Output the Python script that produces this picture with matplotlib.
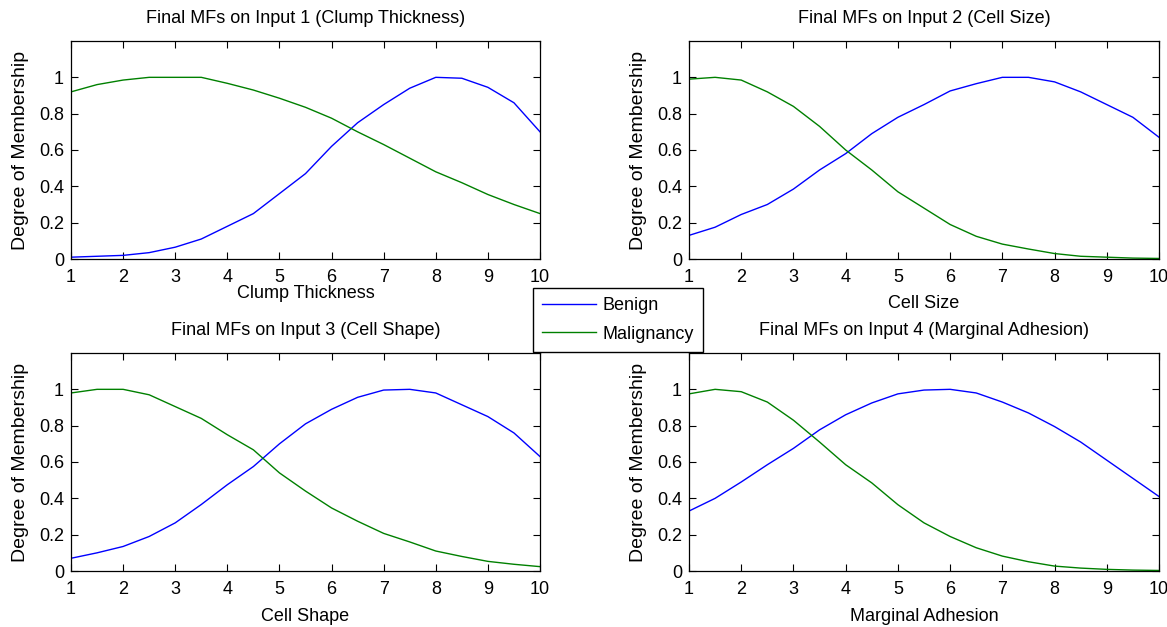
import matplotlib
matplotlib.use("Agg")
import matplotlib.pyplot as plt

# membership values sampled every 0.5 on the input range 1..10
x = [1, 1.5, 2, 2.5, 3, 3.5, 4, 4.5, 5, 5.5, 6, 6.5, 7, 7.5, 8, 8.5, 9, 9.5, 10]

benign_1 = [0.01, 0.015, 0.02, 0.035, 0.065, 0.11, 0.18, 0.25, 0.36, 0.47, 0.62,
            0.75, 0.85, 0.94, 1.0, 0.995, 0.945, 0.86, 0.70]
malig_1 = [0.92, 0.96, 0.985, 1.0, 1.0, 1.0, 0.967, 0.93, 0.885, 0.835, 0.775,
           0.70, 0.63, 0.555, 0.48, 0.42, 0.355, 0.30, 0.25]

benign_2 = [0.13, 0.175, 0.245, 0.30, 0.385, 0.49, 0.58, 0.69, 0.78, 0.85, 0.925,
            0.965, 1.0, 1.0, 0.975, 0.92, 0.85, 0.78, 0.67]
malig_2 = [0.99, 1.0, 0.985, 0.92, 0.84, 0.73, 0.60, 0.49, 0.37, 0.28, 0.19,
           0.125, 0.082, 0.055, 0.03, 0.015, 0.01, 0.005, 0.003]

benign_3 = [0.07, 0.10, 0.135, 0.19, 0.265, 0.366, 0.475, 0.575, 0.70, 0.81, 0.89,
            0.956, 0.996, 1.0, 0.98, 0.915, 0.85, 0.76, 0.63]
malig_3 = [0.98, 1.0, 1.0, 0.97, 0.905, 0.84, 0.75, 0.667, 0.54, 0.44, 0.347,
           0.274, 0.207, 0.16, 0.11, 0.08, 0.053, 0.037, 0.024]

benign_4 = [0.33, 0.40, 0.49, 0.585, 0.675, 0.777, 0.86, 0.925, 0.975, 0.996, 1.0,
            0.98, 0.93, 0.87, 0.795, 0.71, 0.61, 0.51, 0.41]
malig_4 = [0.975, 1.0, 0.987, 0.93, 0.83, 0.71, 0.585, 0.485, 0.365, 0.265, 0.19,
           0.128, 0.082, 0.051, 0.027, 0.016, 0.009, 0.005, 0.003]

inputs = ["Clump Thickness", "Cell Size", "Cell Shape", "Marginal Adhesion"]
benign = [benign_1, benign_2, benign_3, benign_4]
malig = [malig_1, malig_2, malig_3, malig_4]

plt.rcParams['font.family'] = ['Liberation Sans', 'DejaVu Sans']
fs = 13

W, H = 1167, 627
fig = plt.figure(figsize=(W / 100, H / 100), dpi=100)

# axes boxes in pixels: left, top, right, bottom
boxes = [(71, 41, 540, 259), (689, 41, 1159, 259),
         (71, 353, 540, 571), (689, 353, 1159, 571)]
xlabel_y = [-0.12, -0.163, -0.17, -0.17]

for i, (l, t, r, b) in enumerate(boxes):
    ax = fig.add_axes([l / W, 1 - b / H, (r - l) / W, (b - t) / H])
    lb, = ax.plot(x, benign[i], color=(0, 0, 1), lw=1.0, label="Benign")
    lm, = ax.plot(x, malig[i], color=(0, 0.5, 0), lw=1.0, label="Malignancy")
    ax.set_xlim(1, 10)
    ax.set_ylim(0, 1.2)
    ax.set_xticks(range(1, 11))
    ax.set_yticks([0, 0.2, 0.4, 0.6, 0.8, 1.0])
    ax.set_yticklabels(["0", "0.2", "0.4", "0.6", "0.8", "1"])
    ax.tick_params(direction='in', top=True, right=True, length=5, width=0.8,
                   labelsize=fs)
    ax.tick_params(axis='x', pad=7)
    ax.tick_params(axis='y', pad=5)
    for s in ax.spines.values():
        s.set_linewidth(0.9)
    ax.set_title("Final MFs on Input %d (%s)" % (i + 1, inputs[i]), fontsize=fs, pad=13)
    ax.set_xlabel(inputs[i], fontsize=fs)
    ax.xaxis.set_label_coords(0.5, xlabel_y[i])
    ax.set_ylabel("Degree of Membership", fontsize=14)
    ax.yaxis.set_label_coords(-0.09, 0.5)

fig.legend([lb, lm], ["Benign", "Malignancy"], loc='upper left',
           bbox_to_anchor=(533 / W, 1 - 288 / H), borderaxespad=0,
           fancybox=False, edgecolor='black', framealpha=1, fontsize=fs,
           handlelength=3.0, handletextpad=0.35, borderpad=0.5,
           labelspacing=0.65)

fig.savefig("out.png", dpi=100)
